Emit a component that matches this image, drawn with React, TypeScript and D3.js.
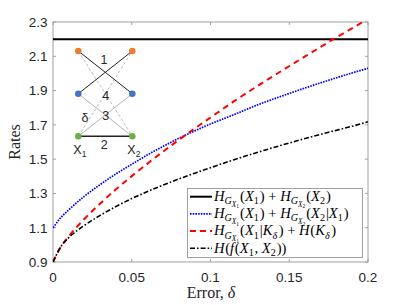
import React from 'react';
import * as d3 from 'd3';

const deltas = [0, 0.005, 0.01, 0.02, 0.03, 0.04, 0.05, 0.06, 0.07, 0.08, 0.09, 0.1, 0.115, 0.13, 0.145, 0.16, 0.175, 0.19, 0.2];
const solidRate = [2.2, 2.2, 2.2, 2.2, 2.2, 2.2, 2.2, 2.2, 2.2, 2.2, 2.2, 2.2, 2.2, 2.2, 2.2, 2.2, 2.2, 2.2, 2.2];
const blueRate = [1.1, 1.159, 1.204, 1.284, 1.352, 1.414, 1.47, 1.525, 1.575, 1.622, 1.665, 1.705, 1.76, 1.817, 1.867, 1.915, 1.96, 2.003, 2.03];
const redRate = [0.9, 0.988, 1.05, 1.152, 1.241, 1.324, 1.401, 1.474, 1.545, 1.613, 1.679, 1.743, 1.838, 1.928, 2.014, 2.099, 2.183, 2.264, 2.318];
const blackRate = [0.9, 0.99, 1.042, 1.114, 1.172, 1.224, 1.27, 1.311, 1.349, 1.385, 1.418, 1.45, 1.497, 1.54, 1.581, 1.62, 1.657, 1.692, 1.718];

const xTicks = [0, 0.05, 0.1, 0.15, 0.2];
const xTickLabels = ['0', '0.05', '0.1', '0.15', '0.2'];
const yTicks = [0.9, 1.1, 1.3, 1.5, 1.7, 1.9, 2.1, 2.3];
const yTickLabels = ['0.9', '1.1', '1.3', '1.5', '1.7', '1.9', '2.1', '2.3'];

// inset graph
const insetNodes = ['o1', 'o2', 'b1', 'b2', 'g1', 'g2'];
const insetEdges: [string, string, string][] = [
  ['o1', 'g2', 'dash'],
  ['g1', 'o2', 'dash'],
  ['b1', 'g2', 'gray'],
  ['g1', 'b2', 'gray'],
  ['o1', 'b2', 'black'],
  ['b1', 'o2', 'black'],
  ['g1', 'g2', 'black2'],
];
const insetEdgeLabels = ['1', '4', '3', '2', 'δ'];

type Seg = { t: string; it?: boolean; lv?: number };
const lvSize = [13, 9, 6.5, 5];
const lvOff = [0, 3, 5.2, 6.6];

const HG = (n: string): Seg[] => [
  { t: 'H', it: true },
  { t: 'G', it: true, lv: 1 },
  { t: 'X', it: true, lv: 2 },
  { t: n, lv: 3 },
];
const X = (n: string): Seg[] => [{ t: 'X', it: true }, { t: n, lv: 1 }];

const legendLabels: Seg[][] = [
  [...HG('1'), { t: '(' }, ...X('1'), { t: ') + ' }, ...HG('2'), { t: '(' }, ...X('2'), { t: ')' }],
  [...HG('1'), { t: '(' }, ...X('1'), { t: ') + ' }, ...HG('2'), { t: '(' }, ...X('2'), { t: '|' }, ...X('1'), { t: ')' }],
  [...HG('1'), { t: '(' }, ...X('1'), { t: '|' }, { t: 'K', it: true }, { t: 'δ', it: true, lv: 1 }, { t: ') + ' }, { t: 'H', it: true }, { t: '(' }, { t: 'K', it: true }, { t: 'δ', it: true, lv: 1 }, { t: ')' }],
  [{ t: 'H', it: true }, { t: '(' }, { t: 'f', it: true }, { t: '(' }, ...X('1'), { t: ', ' }, ...X('2'), { t: '))' }],
];

function MathText({ x, y, segs, size = 13 }: { x: number; y: number; segs: Seg[]; size?: number }) {
  let prev = 0;
  let prevIt = false;
  const k = size / 13;
  return (
    <text x={x} y={y} fontFamily="'Liberation Serif', serif" fill="#000">
      {segs.map((s, i) => {
        const lv = s.lv || 0;
        const dy = (lvOff[lv] - lvOff[prev]) * k;
        // small gap when returning from a subscript, or after italic glyph before upright
        const dx = (lv < prev ? 0.8 : 0) + (prevIt && !s.it && lv === 0 ? 0.6 : 0);
        prev = lv;
        prevIt = !!s.it;
        return (
          <tspan key={i} dx={dx * k} dy={dy} fontSize={lvSize[lv] * k} fontStyle={s.it ? 'italic' : 'normal'}>
            {s.t}
          </tspan>
        );
      })}
    </text>
  );
}

const series = [
  { vals: solidRate, color: '#000', width: 2, dash: 'none' },
  { vals: blueRate, color: '#0000ff', width: 1.7, dash: '1.6,1.1' },
  { vals: redRate, color: '#ff0000', width: 2, dash: '6,4.5' },
  { vals: blackRate, color: '#000', width: 1.6, dash: '5,2,1.6,2' },
];

export default function App() {
  const L = 53, R = 368, T = 22, B = 262;
  const x = d3.scaleLinear().domain([0, 0.2]).range([L, R]);
  const y = d3.scaleLinear().domain([0.9, 2.3]).range([B, T]);
  const axisColor = '#a0a0a0';
  const tickLen = 3;

  const mkLine = (vals: number[]) =>
    d3
      .line<number>()
      .x((_, i) => x(deltas[i]))
      .y((v) => y(v))
      .curve(d3.curveMonotoneX)(vals) || '';

  // inset layout
  const nx1 = 78.3, nx2 = 132.3;
  const pos: Record<string, [number, number, string]> = {
    o1: [nx1, 51, '#ee7d31'],
    o2: [nx2, 51, '#ee7d31'],
    b1: [nx1, 93.7, '#4472c4'],
    b2: [nx2, 93.7, '#4472c4'],
    g1: [nx1, 136.3, '#70ad47'],
    g2: [nx2, 136.3, '#70ad47'],
  };
  const edgeStyle: Record<string, any> = {
    dash: { stroke: '#b4b4b4', strokeWidth: 0.9, strokeDasharray: '3,2' },
    gray: { stroke: '#b4b4b4', strokeWidth: 1 },
    black: { stroke: '#222', strokeWidth: 1 },
    black2: { stroke: '#222', strokeWidth: 1.4 },
  };
  const labelPos: [number, number][] = [
    [104, 64],
    [105.7, 100],
    [105.7, 119.5],
    [104.3, 148.5],
    [85, 121.5],
  ];

  const legX = 187.5, legY = 188.5, legW = 175, legH = 69;
  const rowY = [196.7, 213.8, 231, 248.2];

  return (
    <svg width={407} height={305} style={{ position: 'absolute', left: 0, top: 0, background: '#fff' }}>
      <defs>
        <clipPath id="plotclip">
          <rect x={L} y={T} width={R - L} height={B - T} />
        </clipPath>
      </defs>
      <rect x={0} y={0} width={407} height={305} fill="#fff" />
      {/* axes box */}
      <rect x={L} y={T} width={R - L} height={B - T} fill="#fff" stroke={axisColor} strokeWidth={1} />
      {xTicks.map((t, i) => (
        <g key={'xt' + i}>
          <line x1={x(t)} x2={x(t)} y1={B} y2={B - tickLen} stroke={axisColor} />
          <line x1={x(t)} x2={x(t)} y1={T} y2={T + tickLen} stroke={axisColor} />
          <text x={x(t)} y={282} textAnchor="middle" fontFamily="'Liberation Sans', Arial, sans-serif" fontSize={13.5} fill="#262626">
            {xTickLabels[i]}
          </text>
        </g>
      ))}
      {yTicks.map((t, i) => (
        <g key={'yt' + i}>
          <line x1={L} x2={L + tickLen} y1={y(t)} y2={y(t)} stroke={axisColor} />
          <line x1={R} x2={R - tickLen} y1={y(t)} y2={y(t)} stroke={axisColor} />
          <text x={47.5} y={y(t) + 4.8} textAnchor="end" fontFamily="'Liberation Sans', Arial, sans-serif" fontSize={13.5} fill="#262626">
            {yTickLabels[i]}
          </text>
        </g>
      ))}
      {/* series */}
      <g clipPath="url(#plotclip)">
        {series.map((s, i) => (
          <path key={i} d={mkLine(s.vals)} fill="none" stroke={s.color} strokeWidth={s.width} strokeDasharray={s.dash} />
        ))}
      </g>
      {/* inset graph */}
      <g>
        {insetEdges.map(([a, b, st], i) => (
          <line key={i} x1={pos[a][0]} y1={pos[a][1]} x2={pos[b][0]} y2={pos[b][1]} {...edgeStyle[st]} />
        ))}
        {insetNodes.map((n) => (
          <circle key={n} cx={pos[n][0]} cy={pos[n][1]} r={3.3} fill={pos[n][2]} />
        ))}
        {insetEdgeLabels.map((l, i) => (
          <text key={i} x={labelPos[i][0]} y={labelPos[i][1]} textAnchor="middle" fontFamily="'Liberation Sans', Arial, sans-serif" fontSize={12.5} fill="#262626">
            {l}
          </text>
        ))}
        {[nx1, nx2].map((cx, i) => (
          <text key={'xl' + i} x={cx - 5} y={154} fontFamily="'Liberation Sans', Arial, sans-serif" fontSize={12.5} fill="#262626">
            X<tspan fontSize={8.5} dy={3}>{i + 1}</tspan>
          </text>
        ))}
      </g>
      {/* legend */}
      <rect x={legX} y={legY} width={legW} height={legH} fill="#fff" stroke={axisColor} strokeWidth={1} />
      {series.map((s, i) => (
        <g key={'lg' + i}>
          <line x1={190} x2={212} y1={rowY[i]} y2={rowY[i]} stroke={s.color} strokeWidth={s.width} strokeDasharray={s.dash === '6,4.5' ? '6,4' : s.dash} />
          <MathText x={214} y={rowY[i] + 4.3} segs={legendLabels[i]} size={14.6} />
        </g>
      ))}
      {/* axis labels */}
      <text x={211} y={298} textAnchor="middle" fontFamily="'Liberation Serif', serif" fontSize={16} fill="#262626">
        Error, <tspan fontStyle="italic">δ</tspan>
      </text>
      <text transform={`translate(20,${(T + B) / 2}) rotate(-90)`} textAnchor="middle" fontFamily="'Liberation Serif', serif" fontSize={16} fill="#262626">
        Rates
      </text>
    </svg>
  );
}
